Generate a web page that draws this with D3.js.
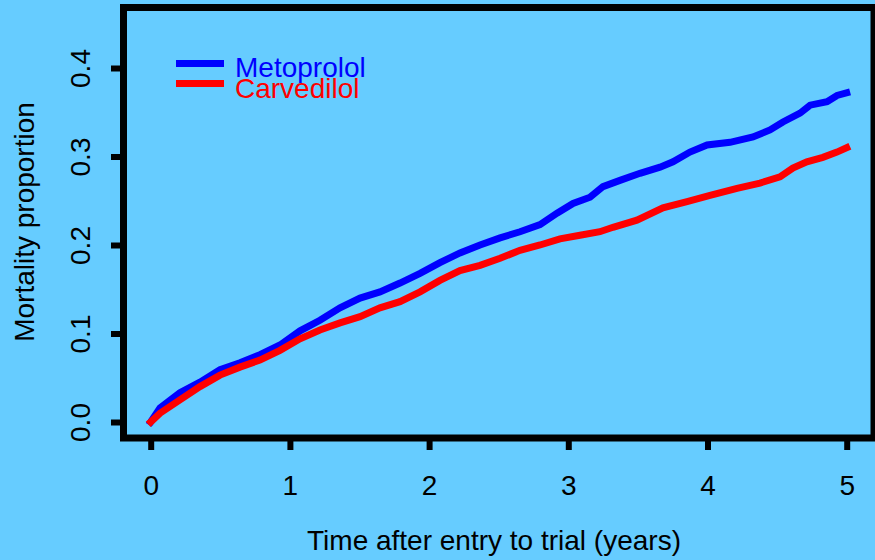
<!DOCTYPE html>
<html>
<head>
<meta charset="utf-8">
<script src="https://cdn.jsdelivr.net/npm/d3@7"></script>
<style>
html,body{margin:0;padding:0;background:#66CCFF;}
svg{display:block;}
text{font-family:"Liberation Sans",Arial,Helvetica,sans-serif;}
</style>
</head>
<body>
<svg id="chart" width="875" height="560"></svg>
<script>
// Data
const seriesNames = ["Metoprolol", "Carvedilol"];
const seriesColors = ["#0000FF", "#FF0000"];
const metoprololTime = [0, 0.067, 0.21, 0.354, 0.498, 0.641, 0.785, 0.929, 1.073, 1.216, 1.36, 1.504, 1.647, 1.791, 1.935, 2.078, 2.222, 2.366, 2.51, 2.653, 2.797, 2.919, 3.034, 3.156, 3.249, 3.371, 3.515, 3.659, 3.752, 3.874, 3.997, 4.162, 4.327, 4.449, 4.542, 4.665, 4.737, 4.859, 4.931, 5.0];
const metoprololValue = [0, 0.016, 0.033, 0.045, 0.059, 0.067, 0.076, 0.087, 0.103, 0.115, 0.129, 0.140, 0.147, 0.157, 0.168, 0.180, 0.191, 0.200, 0.208, 0.215, 0.223, 0.236, 0.247, 0.254, 0.266, 0.273, 0.281, 0.288, 0.294, 0.305, 0.313, 0.316, 0.322, 0.330, 0.339, 0.349, 0.358, 0.362, 0.369, 0.372];
const carvedilolTime = [0, 0.067, 0.21, 0.354, 0.498, 0.641, 0.785, 0.929, 1.073, 1.216, 1.36, 1.504, 1.647, 1.791, 1.935, 2.078, 2.222, 2.366, 2.51, 2.653, 2.797, 2.94, 3.084, 3.227, 3.321, 3.493, 3.68, 3.853, 4.018, 4.212, 4.377, 4.521, 4.613, 4.714, 4.829, 4.93, 5.0];
const carvedilolValue = [0, 0.010, 0.025, 0.040, 0.053, 0.062, 0.070, 0.081, 0.094, 0.104, 0.112, 0.119, 0.129, 0.136, 0.147, 0.160, 0.171, 0.177, 0.185, 0.194, 0.200, 0.207, 0.211, 0.215, 0.220, 0.228, 0.242, 0.249, 0.256, 0.264, 0.270, 0.277, 0.287, 0.294, 0.299, 0.305, 0.310];
const xTicks = [0, 1, 2, 3, 4, 5];
const yTicks = [0.0, 0.1, 0.2, 0.3, 0.4];
const xTitle = "Time after entry to trial (years)";
const yTitle = "Mortality proportion";

const svg = d3.select("#chart");
const FONT = 28;

const x = d3.scaleLinear().domain([0, 5]).range([150.7, 846.7]);
const y = d3.scaleLinear().domain([0, 0.4]).range([422, 68]);

// plot box
svg.append("rect")
  .attr("x", 123.5).attr("y", 7.5)
  .attr("width", 874 - 123.5).attr("height", 438 - 7.5)
  .attr("fill", "none").attr("stroke", "#000").attr("stroke-width", 7);

// axes
const yAxis = d3.axisLeft(y).tickValues(yTicks).tickFormat(d3.format(".1f")).tickSize(10).tickPadding(0);
const gy = svg.append("g").attr("transform", "translate(121,0)").call(yAxis);
gy.select(".domain").remove();
gy.selectAll(".tick line").attr("stroke", "#000").attr("stroke-width", 6);
gy.selectAll(".tick text")
  .attr("x", 0).attr("dy", null)
  .attr("transform", "translate(-31,0) rotate(-90)")
  .attr("text-anchor", "middle")
  .attr("font-size", FONT).attr("fill", "#000")
  .style("font-family", '"Liberation Sans",Arial,sans-serif');

const xAxis = d3.axisBottom(x).tickValues(xTicks).tickFormat(d3.format("d")).tickSize(10).tickPadding(0);
const gx = svg.append("g").attr("transform", "translate(0,440)").call(xAxis);
gx.select(".domain").remove();
gx.selectAll(".tick line").attr("stroke", "#000").attr("stroke-width", 6);
gx.selectAll(".tick text")
  .attr("y", 55).attr("dy", null)
  .attr("font-size", FONT).attr("fill", "#000")
  .style("font-family", '"Liberation Sans",Arial,sans-serif');

// axis titles
svg.append("text").attr("x", 494).attr("y", 550)
  .attr("text-anchor", "middle").attr("font-size", FONT).attr("fill", "#000")
  .text(xTitle);
svg.append("text")
  .attr("transform", "translate(34,222) rotate(-90)")
  .attr("text-anchor", "middle").attr("font-size", FONT).attr("fill", "#000")
  .text(yTitle);

// curves
const series = [
  {name: seriesNames[0], color: seriesColors[0], pts: metoprololTime.map((t, i) => [t, metoprololValue[i]])},
  {name: seriesNames[1], color: seriesColors[1], pts: carvedilolTime.map((t, i) => [t, carvedilolValue[i]])}
];
const line = d3.line().x(d => x(d[0])).y(d => y(d[1])).curve(d3.curveLinear);
svg.selectAll("path.series").data(series).enter().append("path")
  .attr("class", "series")
  .attr("d", d => line(d.pts))
  .attr("fill", "none")
  .attr("stroke", d => d.color)
  .attr("stroke-width", 7)
  .attr("stroke-linejoin", "miter")
  .attr("stroke-linecap", "square");

// legend
const legY = [63.5, 83.5];
const legTextY = [77, 98];
series.forEach((s, i) => {
  svg.append("line").attr("x1", 176).attr("x2", 224)
    .attr("y1", legY[i]).attr("y2", legY[i])
    .attr("stroke", s.color).attr("stroke-width", 7);
  svg.append("text").attr("x", 235).attr("y", legTextY[i])
    .attr("font-size", FONT).attr("fill", s.color).text(s.name);
});
</script>
</body>
</html>
